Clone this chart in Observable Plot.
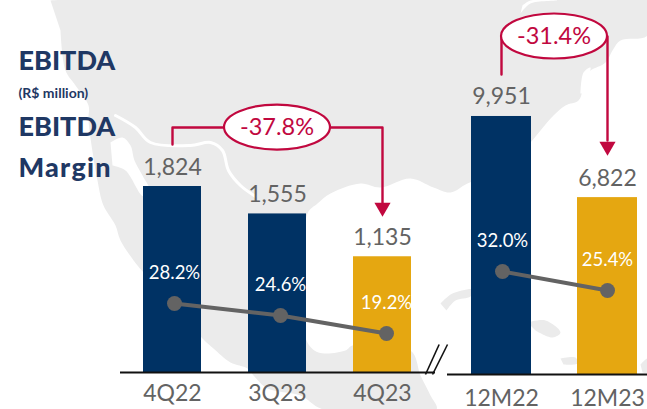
<!DOCTYPE html>
<html>
<head>
<meta charset="utf-8">
<script src="https://cdn.jsdelivr.net/npm/d3@7"></script>
<script src="https://cdn.jsdelivr.net/npm/@observablehq/plot@0.6"></script>
<style>
  html, body { margin: 0; padding: 0; background: #fff; overflow: hidden; }
  #chart { position: relative; width: 647px; height: 409px; font-family: Lato, sans-serif; }
  #chart > svg, #chart > div { position: absolute; }
  .head { color: #1F3864; font-weight: 900; font-size: 27px; line-height: 30px; left: 18.5px; white-space: nowrap; }
  .sub { font-size: 14px; line-height: 18px; font-weight: 700; }
  .wide { letter-spacing: 1.2px; }
</style>
</head>
<body>
<div id="chart"></div>
<script>
// Quarterly panel
const quarters = ["4Q22", "3Q23", "4Q23"];
const quarterEbitda = [1824, 1555, 1135];
const quarterMargin = [28.2, 24.6, 19.2];
// Twelve-month panel
const years = ["12M22", "12M23"];
const yearEbitda = [9951, 6822];
const yearMargin = [32.0, 25.4];

// Change annotations
const quarterChange = "-37.8%";
const yearChange = "-31.4%";
const quarterBracketX = ["4Q22", "4Q22", "4Q23", "4Q23"];
const quarterBracketY = [2235, 2402, 2402, 1657];
const yearBracketX = ["12M22", "12M22", "12M23", "12M23"];
const yearBracketY = [11570, 13035, 13035, 9024];

// Background map outline
const mainland = [[50,0],[647,0],[647,35],[620,40],[612,50],[605,62],[590,70],[584,76],[582,90],[578,100],[565,105],[553,115],[540,130],[530,142],[500,170],[467,183],[450,192],[433,187],[410,178],[380,187],[360,183],[330,193],[317,203],[307,213],[304,280],[306,340],[318,352],[345,350],[352,345],[410,350],[420,375],[430,395],[436,409],[323,409],[300,395],[267,388],[253,375],[247,368],[230,362],[213,348],[202,338],[143,272],[137,265],[120,240],[115,225],[103,205],[97,180],[88,120],[88,105],[75,85],[65,70],[60,30]];
const gulfOfCalifornia = [[110,142],[122,137],[130,145],[134,160],[142,175],[150,192],[143,196],[125,170],[112,165]];
const lakeOne = [[520,13],[530,3],[557,0],[530,0],[522,5]];
const lakeTwo = [[580,93],[583,72],[590,67],[587,80],[586,93]];
const border = [[115,115],[135,127],[150,142],[190,145],[210,142],[222,150],[228,170],[240,185],[255,196]];
const islands = [
  [[440,303],[452,293],[473,289],[470,296],[455,300],[446,310]],
  [[527,322],[545,320],[560,332],[552,337],[535,330]],
  [[560,358],[575,357],[577,363],[563,364]],
  [[640,364],[647,358],[647,372],[642,372]]
];
const breakMarks = [[0, 0, 0.62, 1], [0.32, 0, 1, 1]];

const BLUE = "#003264", GOLD = "#E5A711", GREY = "#636363", RED = "#C1083F", LAND = "#EBEBEB";
const root = document.getElementById("chart");

function place(svg, left, top) {
  svg.style.left = left + "px";
  svg.style.top = top + "px";
  svg.style.background = "transparent";
  svg.style.overflow = "visible";
  root.appendChild(svg);
}

// Background map
const shape = (pts, fill) => Plot.line(pts, {x: d => d[0], y: d => d[1], fill, stroke: "none", curve: "catmull-rom"});
place(Plot.plot({
  width: 647, height: 409, margin: 0,
  x: {domain: [0, 647], axis: null},
  y: {domain: [409, 0], axis: null},
  marks: [
    shape(mainland, LAND),
    shape(gulfOfCalifornia, "#fff"),
    shape(lakeOne, "#fff"),
    shape(lakeTwo, "#fff"),
    Plot.line(border, {x: d => d[0], y: d => d[1], stroke: "#fff", strokeWidth: 3, curve: "catmull-rom"}),
    ...islands.map(p => shape(p, LAND))
  ]
}), 0, 0);

// Ellipse with the change figure, centred between two categories
function changeBadge(a, b, level, label) {
  return (index, {x, y}) => {
    const bw = typeof x.bandwidth === "function" ? x.bandwidth() : (x.bandwidth || 0);
    const cx = (x(a) + x(b)) / 2 + bw / 2, cy = y(level);
    const g = d3.create("svg:g");
    g.append("ellipse").attr("cx", cx).attr("cy", cy).attr("rx", 53).attr("ry", 22.5)
      .attr("fill", "#fff").attr("stroke", RED).attr("stroke-width", 2.2);
    g.append("text").attr("x", cx).attr("y", cy).attr("dy", "0.35em").attr("text-anchor", "middle")
      .attr("fill", RED).attr("font-size", 23.5).attr("font-family", "Lato, sans-serif").text(label);
    return g.node();
  };
}

function barPanel({cats, vals, colors, left, width, base, top, x, bracketX, bracketY, tip, badge, padTick, tickFont}) {
  const rows = cats.map((c, i) => ({c, v: vals[i], color: colors[i]}));
  const bracket = bracketX.map((c, i) => ({c, v: bracketY[i]}));
  place(Plot.plot({
    width, height: 409, marginLeft: 0, marginRight: 0, marginTop: 0, marginBottom: 409 - base,
    x: {domain: cats, label: null, ...x},
    y: {domain: [0, top], axis: null},
    marks: [
      Plot.barY(rows, {x: "c", y: "v", fill: d => d.color}),
      Plot.ruleY([0], {stroke: "#111", strokeWidth: 2}),
      Plot.text(rows, {x: "c", y: "v", text: d => d3.format(",")(d.v), dy: -12, lineAnchor: "bottom", fontSize: 23, fill: GREY, fontFamily: "Lato, sans-serif"}),
      Plot.axisX({tickSize: 0, tickPadding: padTick, fontSize: tickFont, color: GREY, fontFamily: "Lato, sans-serif", label: null}),
      Plot.line(bracket, {x: "c", y: "v", stroke: RED, strokeWidth: 2.4}),
      Plot.dot([bracket[bracket.length - 1]], {x: "c", y: () => tip, symbol: "triangle", r: 6, rotate: 180, fill: RED, stroke: "none"}),
      badge
    ]
  }), left, 0);
}

function marginPanel({cats, vals, left, width, mLeft, mRight, yDomain, yRange}) {
  const rows = cats.map((c, i) => ({c, v: vals[i]}));
  place(Plot.plot({
    width, height: 409, marginLeft: mLeft, marginRight: mRight, marginTop: 0, marginBottom: 0,
    x: {type: "point", domain: cats, padding: 0, axis: null},
    y: {type: "linear", domain: yDomain, range: yRange, axis: null},
    marks: [
      Plot.line(rows, {x: "c", y: "v", stroke: GREY, strokeWidth: 4}),
      Plot.dot(rows, {x: "c", y: "v", r: 7.5, fill: GREY, stroke: "none"}),
      Plot.text(rows, {x: "c", y: "v", text: d => d.v.toFixed(1) + "%", dy: -30, fontSize: 18.5, fill: "#fff", fontFamily: "Lato, sans-serif"})
    ]
  }), left, 0);
}

barPanel({
  cats: quarters, vals: quarterEbitda, colors: [BLUE, BLUE, GOLD],
  left: 120, width: 315, base: 372, top: 3648,
  x: {paddingInner: 0.4476, paddingOuter: 0.2238, align: 0.489},
  bracketX: quarterBracketX, bracketY: quarterBracketY, tip: 1620,
  badge: changeBadge("3Q23", "3Q23", quarterBracketY[1], quarterChange),
  padTick: 12, tickFont: 23
});
barPanel({
  cats: years, vals: yearEbitda, colors: [BLUE, GOLD],
  left: 447, width: 200, base: 374, top: 14424,
  x: {paddingInner: 0.434, paddingOuter: 0.16, align: 0.706},
  bracketX: yearBracketX, bracketY: yearBracketY, tip: 8793,
  badge: changeBadge("12M22", "12M23", yearBracketY[1], yearChange),
  padTick: 15, tickFont: 23
});
marginPanel({cats: quarters, vals: quarterMargin, left: 120, width: 315, mLeft: 53, mRight: 49, yDomain: [19.2, 28.2], yRange: [333, 303]});
marginPanel({cats: years, vals: yearMargin, left: 447, width: 200, mLeft: 55, mRight: 40, yDomain: [25.4, 32.0], yRange: [290, 271]});

// Axis break
place(Plot.plot({
  width: 22, height: 30, margin: 0,
  x: {domain: [0, 1], axis: null},
  y: {domain: [0, 1], axis: null},
  marks: [Plot.link(breakMarks, {x1: d => d[0], y1: d => d[1], x2: d => d[2], y2: d => d[3], stroke: "#111", strokeWidth: 1.6})]
}), 425, 344);

// Left-hand headings
[["EBITDA", 45, ""], ["(R$ million)", 84, "sub"], ["EBITDA", 111, ""], ["Margin", 152, "wide"]].forEach(([t, top, cls]) => {
  const d = document.createElement("div");
  d.className = "head " + cls;
  d.style.top = top + "px";
  d.textContent = t;
  root.appendChild(d);
});
</script>
</body>
</html>
